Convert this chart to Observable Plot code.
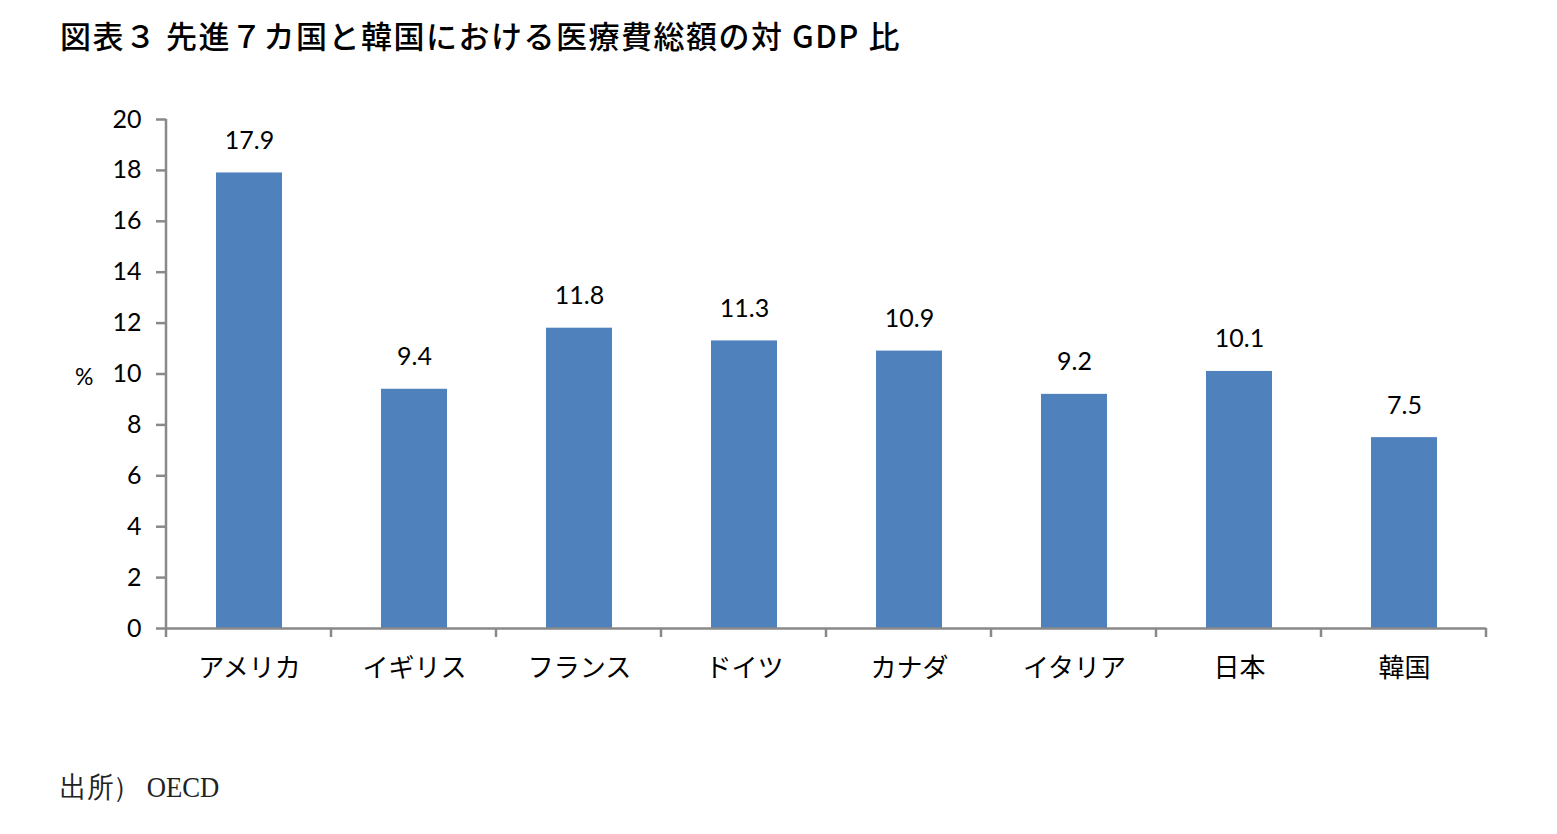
<!DOCTYPE html>
<html><head><meta charset="utf-8">
<script src="https://cdn.jsdelivr.net/npm/d3@7"></script>
<script src="https://cdn.jsdelivr.net/npm/@observablehq/plot@0.6"></script>
<style>
body{margin:0;background:#fff;width:1557px;height:834px;position:relative;overflow:hidden;}
#title{position:absolute;left:60px;top:12px;font-family:"Noto Sans CJK JP",sans-serif;font-weight:500;font-size:31px;color:#000;white-space:nowrap;letter-spacing:1.5px;}
#chart{position:absolute;left:0;top:60px;}
#caption{position:absolute;left:60px;top:768px;font-family:"Liberation Serif","DejaVu Serif",serif;font-size:29px;color:#222;white-space:nowrap;transform:scaleX(0.92);transform-origin:left;}
#ylab{position:absolute;left:75px;top:362px;font-family:"Lato","Noto Sans",sans-serif;font-size:23px;color:#000;}
</style></head>
<body>
<div id="title">図表３ 先進７カ国と韓国における医療費総額の対 GDP 比</div>
<div id="ylab">%</div>
<div id="chart"></div>
<div id="caption">出所）&nbsp;OECD</div>
<script>
const countries = ["アメリカ","イギリス","フランス","ドイツ","カナダ","イタリア","日本","韓国"];
const values = [17.9, 9.4, 11.8, 11.3, 10.9, 9.2, 10.1, 7.5];
const yTicks = [0,2,4,6,8,10,12,14,16,18,20];

const data = countries.map((c,i)=>({country:c, value:values[i]}));
const axisColor = "#898989";

const boundaryTicks = (index, scales, values, dim) => {
  const g = d3.create("svg:g");
  const x0 = dim.marginLeft, x1 = dim.width - dim.marginRight;
  const yb = dim.height - dim.marginBottom;
  const n = countries.length;
  for (let i = 0; i <= n; i++) {
    const x = x0 + (x1 - x0) * i / n;
    g.append("line").attr("x1",x).attr("x2",x).attr("y1",yb).attr("y2",yb+9)
      .attr("stroke",axisColor).attr("stroke-width",2.5);
  }
  g.append("line").attr("x1",x0).attr("x2",x0).attr("y1",dim.marginTop).attr("y2",yb)
    .attr("stroke",axisColor).attr("stroke-width",2.5);
  return g.node();
};

const plot = Plot.plot({
  width: 1557,
  height: 660,
  marginLeft: 166,
  marginRight: 71,
  marginTop: 59,
  marginBottom: 92,
  style: {fontFamily: "Lato, 'Noto Sans', sans-serif", fontSize: "24px", color: "#000", background: "transparent"},
  x: {domain: countries, paddingInner: 0.6, paddingOuter: 0.3, label: null},
  y: {domain: [0,20], label: null},
  marks: [
    Plot.barY(data, {x:"country", y:"value", fill:"#4f81bd"}),
    Plot.ruleY([0], {stroke: axisColor, strokeWidth: 2.5}),
    Plot.axisY({ticks: yTicks, tickSize: 10, tickPadding: 15, stroke: axisColor, strokeWidth: 2.5, fontSize: 25, label: null, textStroke: "none"}),
    Plot.axisX({tickSize: 0, tickPadding: 30, fontSize: 26, fontFamily: "'Noto Sans CJK JP', sans-serif", label: null}),
    boundaryTicks,
    Plot.text(data, {x:"country", y:"value", text: d => d.value.toFixed(1), dy: -32, fontSize: 25, fill: "#000"})
  ]
});
document.getElementById("chart").appendChild(plot);
</script>
</body></html>
